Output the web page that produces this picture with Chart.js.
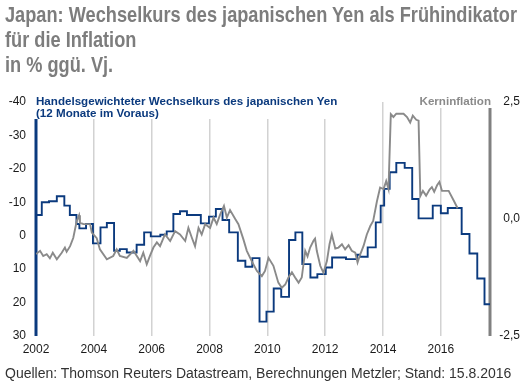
<!DOCTYPE html>
<html>
<head>
<meta charset="utf-8">
<script src="https://cdn.jsdelivr.net/npm/chart.js@4"></script>
<style>
  html, body { margin: 0; padding: 0; background: #fff; }
  body { width: 522px; height: 385px; position: relative; overflow: hidden; }
  #title { position: absolute; left: 5px; top: 2px; font-family: "Liberation Sans", Arial, sans-serif;
           font-weight: bold; font-size: 22px; line-height: 25px; color: #7d7d7d; white-space: nowrap;
           transform-origin: 0 0; }
  #title span { display: inline-block; }
  #source { position: absolute; left: 5px; top: 365px; font-family: "Liberation Sans", Arial, sans-serif;
            font-size: 14px; color: #333; white-space: nowrap; }
  #wrap { position: absolute; left: 0; top: 0; width: 522px; height: 385px; }
</style>
</head>
<body>
<div id="wrap"><canvas id="chartYen" width="522" height="385"></canvas></div>
<div id="title"><span id="t1">Japan: Wechselkurs des japanischen Yen als Frühindikator</span><br>für die Inflation<br>in % ggü. Vj.</div>
<div id="source">Quellen: Thomson Reuters Datastream, Berechnungen Metzler; Stand: 15.8.2016</div>
<script>
// Wechselkurs (12 Monate vorlaufend), Stufen: Beginn des Niveaus (Jahr) und Wert in %
var yenDates = [2002.0, 2002.2, 2002.45, 2002.72, 2002.98, 2003.17, 2003.4, 2003.5, 2003.73, 2003.97,
  2004.23, 2004.45, 2004.7, 2004.9, 2005.14, 2005.48, 2005.74, 2005.97, 2006.3, 2006.52,
  2006.75, 2006.98, 2007.22, 2007.7, 2007.98, 2008.22, 2008.45, 2008.68, 2008.98, 2009.24,
  2009.48, 2009.73, 2009.97, 2010.22, 2010.48, 2010.75, 2010.97, 2011.21, 2011.49, 2011.73,
  2012.02, 2012.24, 2012.72, 2013.1, 2013.2, 2013.47, 2013.75, 2013.92, 2014.04, 2014.23,
  2014.46, 2014.75, 2015.01, 2015.23, 2015.72, 2016.0, 2016.24, 2016.72, 2016.99, 2017.26,
  2017.51, 2017.7];
var yenValues = [-6.2, -10.0, -10.3, -11.8, -9.0, -6.2, -3.5, -2.2, -3.5, 2.3,
  -2.5, -3.8, 4.5, 4.0, 5.0, 2.7, -1.0, 0.2, -0.3, -1.3,
  -6.5, -7.3, -6.2, -3.7, -5.7, -8.0, -4.7, -1.0, 7.5, 9.3,
  6.7, 25.7, 22.7, 15.8, 18.3, 1.3, -1.0, 8.5, 12.5, 11.5,
  9.5, 6.5, 7.0, 5.7, 6.3, 3.5, -4.0, -9.0, -14.0, -19.0,
  -21.8, -20.3, -11.0, -5.2, -9.0, -6.7, -8.3, -0.5, 5.3, 12.8,
  20.5, 20.5];

// Kerninflation in %
var inflDates = [2002.0, 2002.14, 2002.25, 2002.37, 2002.48, 2002.58, 2002.72, 2002.89, 2003.0, 2003.06,
  2003.18, 2003.29, 2003.41, 2003.49, 2003.52, 2003.64, 2003.87, 2003.93, 2004.1, 2004.21,
  2004.45, 2004.67, 2004.79, 2004.9, 2005.14, 2005.37, 2005.6, 2005.71, 2005.83, 2005.94,
  2006.06, 2006.18, 2006.29, 2006.46, 2006.64, 2006.81, 2006.98, 2007.16, 2007.27, 2007.39,
  2007.5, 2007.62, 2007.73, 2007.85, 2008.02, 2008.14, 2008.25, 2008.37, 2008.5, 2008.6,
  2008.71, 2008.89, 2009.0, 2009.17, 2009.29, 2009.46, 2009.64, 2009.81, 2009.92, 2010.04,
  2010.21, 2010.38, 2010.5, 2010.62, 2010.73, 2010.85, 2010.96, 2011.08, 2011.19, 2011.31,
  2011.39, 2011.48, 2011.6, 2011.65, 2011.71, 2011.83, 2011.94, 2012.06, 2012.15, 2012.23,
  2012.35, 2012.46, 2012.58, 2012.69, 2012.81, 2012.92, 2013.04, 2013.12, 2013.21, 2013.33,
  2013.44, 2013.56, 2013.66, 2013.79, 2013.9, 2014.02, 2014.11, 2014.19, 2014.27, 2014.36,
  2014.46, 2014.71, 2014.83, 2014.94, 2015.03, 2015.15, 2015.23, 2015.29, 2015.38, 2015.49,
  2015.61, 2015.69, 2015.77, 2015.87, 2015.95, 2016.04, 2016.27, 2016.44, 2016.58];
var inflValues = [-0.75, -0.68, -0.79, -0.75, -0.84, -0.72, -0.86, -0.72, -0.61, -0.7,
  -0.58, -0.4, -0.04, 0.08, -0.08, -0.11, -0.11, -0.29, -0.41, -0.65,
  -0.86, -0.79, -0.65, -0.79, -0.83, -0.68, -0.9, -0.72, -0.97, -0.79,
  -0.61, -0.5, -0.58, -0.33, -0.47, -0.26, -0.33, -0.47, -0.19, -0.4,
  -0.58, -0.19, -0.33, -0.11, -0.19, 0.03, -0.11, 0.1, 0.28, 0.03,
  0.19, 0.0, -0.11, -0.43, -0.68, -0.9, -1.11, -1.22, -1.11, -0.83,
  -1.0, -1.36, -1.47, -1.4, -1.25, -1.14, -1.25, -1.36, -1.25, -0.68,
  -0.8, -0.61, -0.46, -0.42, -0.68, -1.0, -1.15, -0.9, -0.54, -0.33,
  -0.63, -0.61, -0.54, -0.65, -0.56, -0.68, -0.72, -0.93, -0.76, -0.57,
  -0.33, -0.15, -0.04, 0.38, 0.67, 0.64, 0.81, 0.64, 2.24, 2.18,
  2.25, 2.25, 2.18, 2.06, 2.21, 2.12, 2.1, 0.49, 0.6, 0.5,
  0.63, 0.68, 0.58, 0.72, 0.79, 0.6, 0.6, 0.4, 0.23];

var xTickYears = [2002, 2004, 2006, 2008, 2010, 2012, 2014, 2016];
var yenTicks = [-40, -30, -20, -10, 0, 10, 20, 30];
var inflTicks = [-2.5, 0, 2.5];

var blau = '#0b3a7e';
var grau = '#8a8a8a';
var schrift = '"Liberation Sans", Arial, sans-serif';

// Titel schmaler machen (Condensed-Schnitt nachbilden)
var titel = document.getElementById('title');
var breite = document.getElementById('t1').getBoundingClientRect().width;
titel.style.transform = 'scaleX(' + (512 / breite) + ')';

var yenData = yenDates.map(function (d, i) { return { x: d, y: yenValues[i] }; });
var inflData = inflDates.map(function (d, i) { return { x: d, y: inflValues[i] }; });

// Beschriftungen im Diagramm und Achsenlinien
var extras = {
  id: 'extras',
  beforeDatasetsDraw: function (chart) {
    var c = chart.ctx, a = chart.chartArea;
    c.save();
    c.font = 'bold 11.6px ' + schrift;
    c.textBaseline = 'middle';
    var t1 = 'Handelsgewichteter Wechselkurs des japanischen Yen';
    var t2 = '(12 Monate im Voraus)';
    c.fillStyle = '#fff';
    c.fillRect(a.left - 1, a.top - 8, c.measureText(t1).width + 2, 25);
    var k = 'Kerninflation';
    var kw = c.measureText(k).width;
    c.fillRect(a.right - kw - 3, a.top - 8, kw + 3, 14);
    c.fillStyle = blau;
    c.textAlign = 'left';
    c.fillText(t1, a.left, a.top);
    c.fillText(t2, a.left, a.top + 12);
    c.fillStyle = grau;
    c.textAlign = 'right';
    c.fillText(k, a.right + 1, a.top);
    // Achsenlinien
    c.lineWidth = 3;
    c.strokeStyle = blau;
    c.beginPath(); c.moveTo(a.left, a.top + 17); c.lineTo(a.left, a.bottom); c.stroke();
    c.strokeStyle = '#808080';
    c.beginPath(); c.moveTo(a.right, a.top + 6); c.lineTo(a.right, a.bottom); c.stroke();
    c.restore();
  }
};

var ctx = document.getElementById('chartYen').getContext('2d');
var chart = new Chart(ctx, {
  type: 'line',
  data: {
    datasets: [{
      label: 'Kerninflation',
      data: inflData,
      yAxisID: 'yInfl',
      borderColor: grau,
      borderWidth: 1.9,
      pointRadius: 0,
      tension: 0
    }, {
      label: 'Wechselkurs',
      data: yenData,
      yAxisID: 'yYen',
      borderColor: blau,
      borderWidth: 1.9,
      pointRadius: 0,
      stepped: true
    }]
  },
  options: {
    responsive: false,
    animation: false,
    layout: { padding: { top: 102, right: 2, left: 0, bottom: 0 } },
    plugins: { legend: { display: false }, tooltip: { enabled: false }, title: { display: false } },
    scales: {
      x: {
        type: 'linear',
        min: 2002,
        max: 2017.7,
        afterBuildTicks: function (s) { s.ticks = xTickYears.map(function (v) { return { value: v }; }); },
        afterFit: function (s) { s.height = 49; },
        grid: {
          drawTicks: false,
          color: function (c) { return c.tick && c.tick.value === 2002 ? 'rgba(0,0,0,0)' : '#d2d2d2'; },
          lineWidth: 1.5
        },
        border: { display: false },
        ticks: { padding: 6, color: '#1a1a1a', font: { family: schrift, size: 12 }, maxRotation: 0,
                 callback: function (v) { return String(v); } }
      },
      yYen: {
        position: 'left',
        reverse: true,
        min: -40,
        max: 30,
        afterBuildTicks: function (s) { s.ticks = yenTicks.map(function (v) { return { value: v }; }); },
        afterFit: function (s) { s.width = 36; },
        grid: { display: false, drawTicks: false },
        border: { display: false },
        ticks: { padding: 10, color: '#1a1a1a', font: { family: schrift, size: 12 },
                 callback: function (v) { return String(v); } }
      },
      yInfl: {
        position: 'right',
        min: -2.5,
        max: 2.5,
        afterBuildTicks: function (s) { s.ticks = inflTicks.map(function (v) { return { value: v }; }); },
        afterFit: function (s) { s.width = 30; },
        grid: { display: false, drawTicks: false },
        border: { display: false },
        ticks: { crossAlign: 'far', color: '#1a1a1a', font: { family: schrift, size: 12 },
                 callback: function (v) { return v.toFixed(1).replace('.', ','); } }
      }
    }
  },
  plugins: [extras]
});
</script>
</body>
</html>
